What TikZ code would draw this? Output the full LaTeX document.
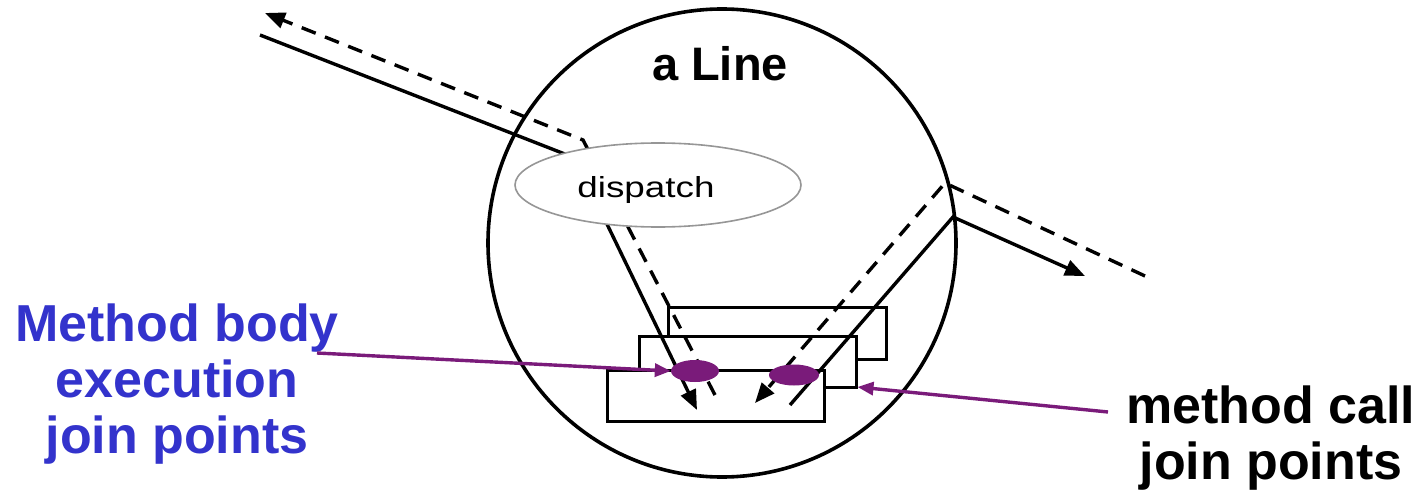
\documentclass[tikz,border=0pt]{standalone}
\usepackage{fontspec}
\setmainfont{Liberation Sans}
\usetikzlibrary{arrows.meta,shapes.geometric}
\definecolor{jpblue}{RGB}{51,51,204}
\definecolor{jppurple}{RGB}{122,27,122}
\definecolor{ellgray}{RGB}{150,150,150}
\tikzset{
  flow/.style={line width=3.4pt, line join=miter},
  flowdash/.style={flow, dash pattern=on 15pt off 10pt},
  blackhead/.style={-{Triangle[length=20pt,width=16pt]}},
  obj/.style={draw, line width=3pt, fill=white},
  purplearrow/.style={draw=jppurple, line width=3.4pt, -{Triangle[length=16pt,width=13pt]}},
  biglabel/.style={font=\fontsize{52}{56}\selectfont\bfseries, align=center, inner sep=0pt},
}
\begin{document}
\begin{tikzpicture}[x=1pt,y=-1pt]
\useasboundingbox (0,0) rectangle (1422,492);
% object circle
\node[circle, draw, line width=3.6pt, minimum size=468pt, inner sep=0pt] (line) at (722,243) {};
\node[anchor=base, font=\fontsize{47}{50}\selectfont\bfseries, inner sep=0pt] (title) at (720,81) {a Line};
% method bodies
\node[obj, minimum width=218pt, minimum height=52pt, inner sep=0pt] (body3) at (777,333) {};
\node[obj, minimum width=217pt, minimum height=51pt, inner sep=0pt] (body2) at (747.5,361.5) {};
\node[obj, minimum width=217pt, minimum height=51pt, inner sep=0pt] (body1) at (715.5,395.5) {};
% coordinates for the flows
\coordinate (inA) at (260,35);
\coordinate (cornA) at (575,158);
\coordinate (endA) at (697,410);
\coordinate (startB) at (715,395);
\coordinate (cornB) at (583,140);
\coordinate (outB) at (265,13);
\coordinate (startC) at (790,405);
\coordinate (cornC) at (953,217);
\coordinate (outC) at (1085,276);
\coordinate (inD) at (1145,276);
\coordinate (cornD) at (945,183);
\coordinate (endD) at (755,403);
\draw[flow, blackhead] (inA) -- (cornA) -- (endA);
\draw[flowdash, blackhead] (startB) -- (cornB) -- (outB);
\draw[flow, blackhead] (startC) -- (cornC) -- (outC);
\draw[flowdash, blackhead] (inD) -- (cornD) -- (endD);
% dispatch
\node[ellipse, draw=ellgray, line width=1.6pt, fill=white, minimum width=286pt, minimum height=84pt, inner sep=0pt] (dispatch) at (658,185) {};
\node[font=\fontsize{29}{30}\selectfont, anchor=base, inner sep=0pt] (dlabel) at (646,197) {\scalebox{1.27}[1]{dispatch}};
% join points
\node[fill=jppurple, ellipse, minimum width=48pt, minimum height=22pt, inner sep=0pt] (jp1) at (695,371) {};
\node[fill=jppurple, ellipse, minimum width=50pt, minimum height=21pt, inner sep=0pt] (jp2) at (794,375) {};
% labels
\node[biglabel, text=jpblue, anchor=base] (execlabel) at (177,453) {Method body\\execution\\join points};
\node[biglabel, anchor=base] (calllabel) at (1271,479) {method call\\join points};
\coordinate (execstart) at (317,353);
\coordinate (callstart) at (1108,412);
\draw[purplearrow] (execstart) -- (jp1.west);
\draw[purplearrow] (callstart) -- (body2.east |- 0,387);
\end{tikzpicture}
\end{document}
